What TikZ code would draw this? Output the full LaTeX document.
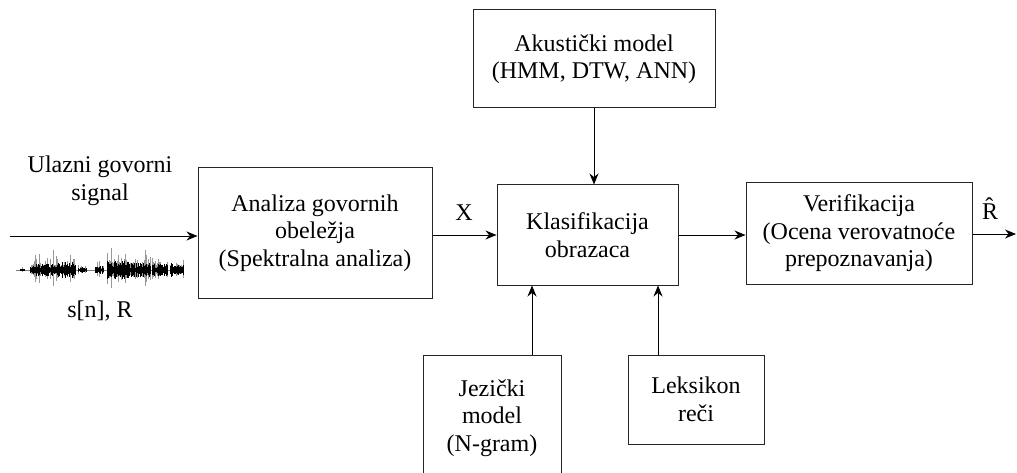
\documentclass[tikz,border=0pt]{standalone}
\usepackage{fontspec}
\setmainfont{LiberationSerif}[Extension=.ttf,UprightFont=*-Regular,BoldFont=*-Bold,ItalicFont=*-Italic]
\usetikzlibrary{arrows.meta}

\begin{document}
\begin{tikzpicture}[x=1pt,y=-1pt,font=\fontsize{24}{27.5}\selectfont,
    blok/.style={draw=black!85,line width=1pt,align=center,inner sep=0pt},
    strelica/.style={-{Stealth[length=11pt,width=9pt]},line width=0.9pt},
    talas/.style={line width=0.7pt}]
        \clip (0,0) rectangle (1017,473);
        % blokovi
        \node[blok,minimum width=234pt,minimum height=130pt] (analiza) at (315,233) {Analiza govornih\\obeležja\\(Spektralna analiza)};
        \node[blok,minimum width=181pt,minimum height=100pt] (klas) at (587.5,235) {Klasifikacija\\obrazaca};
        \node[blok,minimum width=242pt,minimum height=98pt] (akust) at (594,59) {Akustički model\\(HMM, DTW, ANN)};
        \node[blok,minimum width=226pt,minimum height=101pt] (verif) at (859,233.5) {Verifikacija\\(Ocena verovatnoće\\prepoznavanja)};
        \node[blok,minimum width=138pt,minimum height=126pt] (jezik) at (492,418) {Jezički\\model\\(N-gram)};
        \node[blok,minimum width=136pt,minimum height=89pt] (leks) at (696,399.5) {Leksikon\\reči};
        % ulaz
        \node[align=center] (ulaz) at (100,181) {Ulazni govorni\\signal};
        \node (sn) at (100,311) {s[n], R};
        \coordinate (in) at (10,236);
        \coordinate (out) at (1016,234);
        % veze
        \draw[strelica] (in) -- (in -| analiza.west);
        \draw[strelica] (analiza.east |- klas.west) -- (klas.west);
        \draw[strelica] (klas.east) -- (klas.east -| verif.west);
        \draw[strelica] (verif.east |- out) -- (out);
        \draw[strelica] (akust.south) -- (akust.south |- klas.north);
        \draw[strelica] ([xshift=40pt]jezik.north) -- ([xshift=40pt]jezik.north |- klas.south);
        \draw[strelica] ([xshift=-38pt]leks.north) -- ([xshift=-38pt]leks.north |- klas.south);
        \node (x) at (464,213) {X};
        \node (rkapa) at (990,209) {\^{R}};
        % govorni signal
        \draw[black!50,line width=0.6pt] (16,270) -- (183,270);
        \pgfmathsetseed{7}
        \foreach \a/\b/\h in {20/24/4,30/52/18,53/75/24,78/86/9,95/103/12,107/128/27,129/150/22,152/167/19,170/183/21}{
          \foreach \xx in {\a,...,\b}{
            \pgfmathsetmacro\r{\h*(0.15+0.85*rnd*rnd)}
            \pgfmathsetmacro\q{\h*(0.1+0.25*rnd)}
            \draw[talas,black!40] (\xx,{270-\r}) -- (\xx,{270+0.8*\r});
            \draw[talas,black] (\xx,{270-\q}) -- (\xx,{270+\q});
          }
        }
      \end{tikzpicture}
\end{document}
